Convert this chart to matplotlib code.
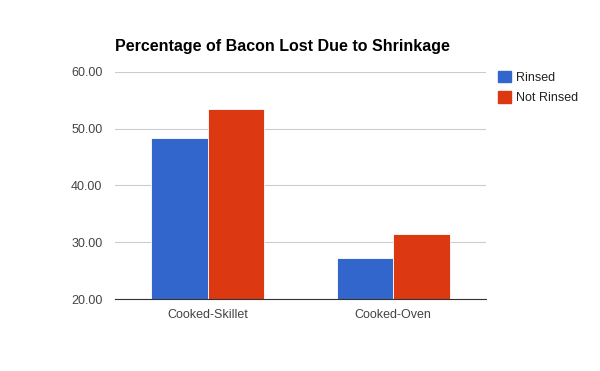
import matplotlib.pyplot as plt
import numpy as np
from matplotlib.patches import Patch

plt.rcParams['font.family'] = ['Liberation Sans', 'DejaVu Sans']

categories = ['Cooked-Skillet', 'Cooked-Oven']
rinsed = [48.35, 27.25]
not_rinsed = [53.55, 31.45]
series_names = ['Rinsed', 'Not Rinsed']
colors = ['#3366cc', '#dc3912']
yticks = [20, 30, 40, 50, 60]

fig = plt.figure(figsize=(6, 3.71), dpi=100)
ax = fig.add_axes([0.1917, 0.194, 0.6183, 0.612])

x = np.arange(len(categories))
w = 0.305
ax.bar(x - w / 2, rinsed, w, color=colors[0], edgecolor='white', linewidth=0.6, zorder=3)
ax.bar(x + w / 2, not_rinsed, w, color=colors[1], edgecolor='white', linewidth=0.6, zorder=3)

ax.set_xlim(-0.5, 1.5)
ax.set_ylim(20, 60)
ax.set_yticks(yticks)
ax.set_yticklabels(['%.2f' % v for v in yticks])
ax.set_xticks(x)
ax.set_xticklabels(categories)
ax.tick_params(axis='both', length=0, labelsize=9, labelcolor='#444444')
ax.tick_params(axis='y', pad=9)
ax.tick_params(axis='x', pad=7)
ax.grid(axis='y', color='#cccccc', linewidth=0.8, zorder=0)
for s in ['top', 'right', 'left']:
    ax.spines[s].set_visible(False)
ax.spines['bottom'].set_color('#333333')
ax.spines['bottom'].set_zorder(4)

fig.text(0.192, 0.876, 'Percentage of Bacon Lost Due to Shrinkage',
         fontsize=11.5, fontweight='bold', color='black', ha='left', va='center')

handles = [Patch(color=c) for c in colors]
fig.legend(handles, series_names, loc='upper left', bbox_to_anchor=(0.822, 0.822),
           frameon=False, fontsize=9, handlelength=1.0, handleheight=1.0,
           handletextpad=0.4, labelspacing=0.6, borderaxespad=0, labelcolor='#222222')

fig.savefig('out.png', dpi=100)
